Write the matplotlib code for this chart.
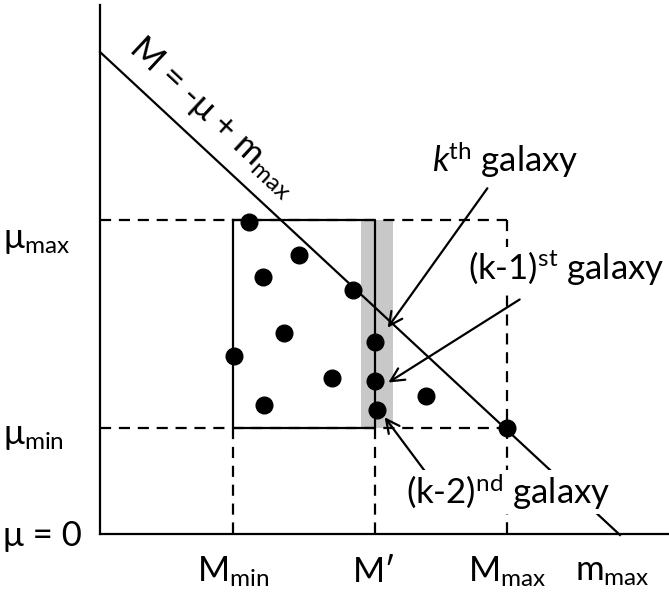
import matplotlib
matplotlib.use("Agg")
import matplotlib.pyplot as plt

plt.rcParams['font.family'] = ['Lato', 'DejaVu Sans']
plt.rcParams['mathtext.fontset'] = 'custom'
plt.rcParams['mathtext.rm'] = 'Lato'
plt.rcParams['mathtext.it'] = 'Lato:italic'

# diagram coordinates (pixel-like units, y grows downward)
axis_x0, axis_y0, axis_top, axis_right = 100, 534, 5, 669
m_min, m_prime, m_max_x = 233, 375, 507
mu_max, mu_min = 220, 428
band = (361, 393)
diag_x = [100, 620]
diag_y = [52, 535]

dots_x = [249, 299, 263, 353, 284, 234, 375, 332, 375, 426, 264, 377, 507]
dots_y = [222, 255, 277, 290, 333, 356, 342, 378, 381, 396, 405, 410, 428]

y_labels = [r"μ$_{\mathrm{max}}$", r"μ$_{\mathrm{min}}$", "μ = 0"]
y_label_pos = [mu_max + 20, mu_min + 8, axis_y0 + 2]
x_labels = [r"M$_{\mathrm{min}}$", "M′", r"M$_{\mathrm{max}}$", r"m$_{\mathrm{max}}$"]
x_label_pos = [m_min, m_prime, m_max_x, 612]

fig = plt.figure(figsize=(6.69, 5.92), dpi=100)
ax = fig.add_axes([0, 0, 1, 1])
ax.set_xlim(0, 669)
ax.set_ylim(592, 0)
ax.axis('off')

lw = 1.6
fs = 25
dash = (0, (5, 3.5))
white = dict(facecolor='white', edgecolor='none', pad=1)

# axes
ax.plot([axis_x0, axis_x0], [axis_top, axis_y0], color='k', lw=lw)
ax.plot([axis_x0, axis_right], [axis_y0, axis_y0], color='k', lw=lw)

# gray band
ax.axvspan(band[0], band[1], ymin=(592 - mu_min) / 592, ymax=(592 - mu_max) / 592,
           color='#c8c8c8', lw=0, zorder=1)

# dashed guides
ax.plot([axis_x0, m_max_x], [mu_max, mu_max], color='k', lw=lw, ls=dash)
ax.plot([axis_x0, m_max_x], [mu_min, mu_min], color='k', lw=lw, ls=dash)
ax.plot([m_max_x, m_max_x], [mu_max, axis_y0], color='k', lw=lw, ls=dash)
ax.plot([m_min, m_min], [mu_min, axis_y0], color='k', lw=lw, ls=dash)
ax.plot([m_prime, m_prime], [mu_min, axis_y0], color='k', lw=lw, ls=dash)

# solid box
ax.plot([m_min, m_prime, m_prime, m_min, m_min],
        [mu_max, mu_max, mu_min, mu_min, mu_max], color='k', lw=lw, zorder=3)

# diagonal limit line
ax.plot(diag_x, diag_y, color='k', lw=lw, zorder=3)
ax.text(213, 117, r"M = -μ + m$_{\mathrm{max}}$", fontsize=fs, rotation=-43,
        ha='center', va='center', rotation_mode='anchor')

# galaxies
ax.plot(dots_x, dots_y, 'o', color='k', ms=12, zorder=4)

# labels
for lab, y in zip(y_labels, y_label_pos):
    ax.text(3, y, lab, fontsize=fs, ha='left', va='center')
for lab, x in zip(x_labels, x_label_pos):
    ax.text(x, 572, lab, fontsize=fs, ha='center', va='center')

arrow = dict(arrowstyle='->', color='k', lw=1.6, mutation_scale=24)
ax.text(505, 160, r"$k$$^{\mathrm{th}}$ galaxy", fontsize=fs, ha='center', va='center')
ax.annotate("", xy=(386, 330), xytext=(489, 186), arrowprops=arrow, zorder=5)
ax.text(566, 268, r"(k-1)$^{\mathrm{st}}$ galaxy", fontsize=fs, ha='center', va='center',
        zorder=6, bbox=white)
ax.annotate("", xy=(386, 384), xytext=(522, 298), arrowprops=arrow, zorder=5)
ax.text(508, 492, r"(k-2)$^{\mathrm{nd}}$ galaxy", fontsize=fs, ha='center', va='center',
        zorder=6, bbox=white)
ax.annotate("", xy=(383, 415), xytext=(430, 478), arrowprops=arrow, zorder=5)

fig.savefig("out.png", dpi=100)
